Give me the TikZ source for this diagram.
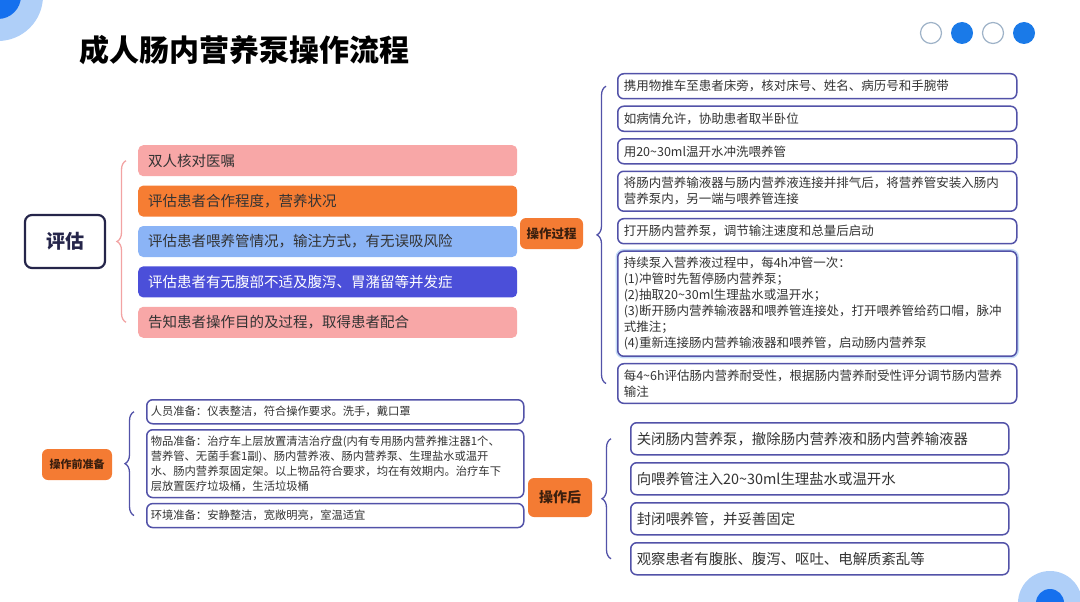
\documentclass[tikz,border=0pt]{standalone}
\usepackage{fontspec}
\setmainfont{Noto Sans CJK SC}
\usepackage{xcolor}
\usepackage{tikz}
\usetikzlibrary{positioning,decorations.pathreplacing}

\definecolor{pinkbox}{HTML}{F8A7A7}
\definecolor{orangebox}{HTML}{F67D33}
\definecolor{bluebox}{HTML}{8BB4F6}
\definecolor{indigobox}{HTML}{4B4FD9}
\definecolor{boxline}{HTML}{5252A8}
\definecolor{pinkbrace}{HTML}{F2A3A3}
\definecolor{tagorange}{HTML}{F47B33}
\definecolor{tagtext}{HTML}{3B1F0E}
\definecolor{ringlight}{HTML}{AFCFF8}
\definecolor{ringdark}{HTML}{1570EE}
\definecolor{dotline}{HTML}{9FB3C8}
\definecolor{dotfill}{HTML}{1A7AE8}
\definecolor{glow}{HTML}{C5DCF7}
\definecolor{navy}{HTML}{25254A}
\definecolor{textdark}{HTML}{333333}

\begin{document}
\begin{tikzpicture}[x=1pt, y=-1pt,
    evalbox/.style={rectangle, rounded corners=5pt, minimum width=379pt, minimum height=31pt,
        text width=359pt, inner xsep=10pt, align=left, text=textdark, font=\fontsize{14.5}{17}\selectfont},
    stepbox/.style={rectangle, draw=boxline, line width=1.5pt, rounded corners=6pt, fill=white,
        minimum width=399pt, minimum height=25pt, text width=387pt, inner xsep=6pt, inner ysep=6pt,
        align=left, text=textdark, font=\fontsize{12.5}{16}\selectfont},
    prepbox/.style={stepbox, minimum width=377pt, minimum height=24pt, text width=369pt, inner xsep=4pt,
        inner ysep=6pt, font=\fontsize{11.3}{15}\selectfont},
    afterbox/.style={stepbox, minimum width=378pt, minimum height=32pt, text width=366pt,
        font=\fontsize{14.4}{17}\selectfont},
    tagbox/.style={rectangle, rounded corners=6pt, fill=tagorange, text=tagtext, inner sep=0pt,
        font=\bfseries},
    hollowdot/.style={circle, draw=dotline, line width=1.2pt, fill=white, minimum size=21pt, inner sep=0pt},
    soliddot/.style={circle, fill=dotfill, minimum size=22pt, inner sep=0pt},
    brace/.style={decorate, decoration={brace, amplitude=9pt}, line width=1.3pt, draw=boxline}]

    \useasboundingbox (0,0) rectangle (1080,602);

    % Corner rings
    \fill [ringlight] (-2,-4) circle (45);
    \fill [ringdark] (-2,-4) circle (23);
    \fill [ringlight] (1050,603) circle (32);
    \fill [ringdark] (1050,603) circle (14);

    % Title and page dots
    \node [anchor=west, font=\fontsize{30}{34}\bfseries\selectfont] (title) at (76,50) {成人肠内营养泵操作流程};
    \foreach \i/\s in {1/hollowdot,2/soliddot,3/hollowdot,4/soliddot}
        \node [\s] (dot\i) at (900+31*\i,33) {};

    % Assessment
    \node [rectangle, draw=navy, line width=2.2pt, rounded corners=7pt, minimum width=80pt, minimum height=53pt,
        font=\fontsize{19}{22}\bfseries\selectfont, text=navy] (assess) at (65,241.5) {评估};
    \node [evalbox, fill=pinkbox, anchor=north west] (e1) at (138,145) {双人核对医嘱};
    \node [evalbox, fill=orangebox, below=9pt of e1] (e2) {评估患者合作程度，营养状况};
    \node [evalbox, fill=bluebox, below=9pt of e2] (e3) {评估患者喂养管情况，输注方式，有无误吸风险};
    \node [evalbox, fill=indigobox, text=white, below=9pt of e3] (e4) {评估患者有无腹部不适及腹泻、胃潴留等并发症};
    \node [evalbox, fill=pinkbox, below=9pt of e4] (e5) {告知患者操作目的及过程，取得患者配合};
    \draw [brace, draw=pinkbrace] ([xshift=-12pt]e5.west) -- ([xshift=-12pt]e1.west);

    % Procedure
    \node [tagbox, minimum width=63pt, minimum height=31pt, font=\fontsize{12.5}{14}\bfseries\selectfont] (proc) at (551.5,233.5) {操作过程};
    \node [stepbox, anchor=north west] (s1) at (617,73) {携用物推车至患者床旁，核对床号、姓名、病历号和手腕带};
    \node [stepbox, below=6pt of s1] (s2) {如病情允许，协助患者取半卧位};
    \node [stepbox, below=6pt of s2] (s3) {用20\textasciitilde30ml温开水冲洗喂养管};
    \node [stepbox, below=6pt of s3] (s4) {将肠内营养输液器与肠内营养液连接并排气后，将营养管安装入肠内\\营养泵内，另一端与喂养管连接};
    \node [stepbox, below=6pt of s4] (s5) {打开肠内营养泵，调节输注速度和总量后启动};
    \node [stepbox, below=6pt of s5, preaction={draw=glow, line width=4.5pt}] (s6) {持续泵入营养液过程中，每4h冲管一次：\\(1)冲管时先暂停肠内营养泵；\\(2)抽取20\textasciitilde30ml生理盐水或温开水；\\(3)断开肠内营养输液器和喂养管连接处，打开喂养管给药口帽，脉冲\\式推注；\\(4)重新连接肠内营养输液器和喂养管，启动肠内营养泵};
    \node [stepbox, below=6pt of s6] (s7) {每4\textasciitilde6h评估肠内营养耐受性，根据肠内营养耐受性评分调节肠内营养\\输注};
    \draw [brace] ([xshift=-11pt]s7.west) -- ([xshift=-11pt]s1.west);

    % Preparation
    \node [tagbox, minimum width=70pt, minimum height=31pt, font=\fontsize{11}{13}\bfseries\selectfont] (prep) at (77,464.5) {操作前准备};
    \node [prepbox, anchor=north west] (p1) at (146,399) {人员准备：仪表整洁，符合操作要求。洗手，戴口罩};
    \node [prepbox, below=4.5pt of p1] (p2) {物品准备：治疗车上层放置清洁治疗盘(内有专用肠内营养推注器1个、\\营养管、无菌手套1副)、肠内营养液、肠内营养泵、生理盐水或温开\\水、肠内营养泵固定架。以上物品符合要求，均在有效期内。治疗车下\\层放置医疗垃圾桶，生活垃圾桶};
    \node [prepbox, below=4.5pt of p2] (p3) {环境准备：安静整洁，宽敞明亮，室温适宜};
    \draw [brace] ([xshift=-12pt]p3.west) -- ([xshift=-12pt]p1.west);

    % After
    \node [tagbox, minimum width=64pt, minimum height=39pt, font=\fontsize{14}{16}\bfseries\selectfont] (after) at (560,497.5) {操作后};
    \node [afterbox, anchor=north west] (a1) at (630,422) {关闭肠内营养泵，撤除肠内营养液和肠内营养输液器};
    \node [afterbox, below=6.5pt of a1] (a2) {向喂养管注入20\textasciitilde30ml生理盐水或温开水};
    \node [afterbox, below=6.5pt of a2] (a3) {封闭喂养管，并妥善固定};
    \node [afterbox, below=6.5pt of a3] (a4) {观察患者有腹胀、腹泻、呕吐、电解质紊乱等};
    \draw [brace] ([xshift=-19pt]a4.west) -- ([xshift=-19pt]a1.west);

\end{tikzpicture}
\end{document}
